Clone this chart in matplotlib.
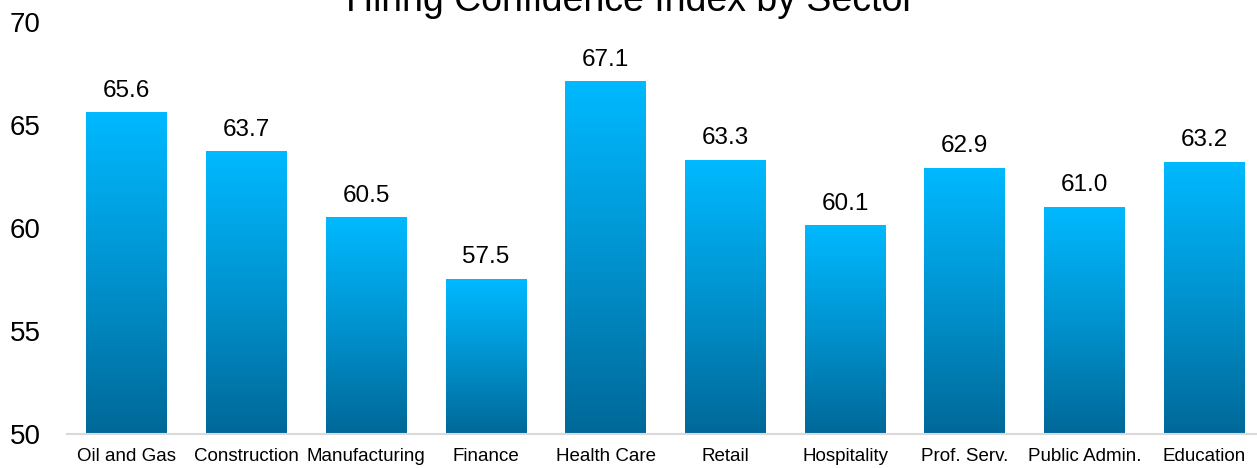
import numpy as np
import matplotlib
matplotlib.use("Agg")
import matplotlib.pyplot as plt
from matplotlib.colors import LinearSegmentedColormap

plt.rcParams['font.family'] = ['Liberation Sans', 'DejaVu Sans']

# sector data
sectors = ['Oil and Gas', 'Construction', 'Manufacturing', 'Finance', 'Health Care',
           'Retail', 'Hospitality', 'Prof. Serv.', 'Public Admin.', 'Education']
index_values = [65.6, 63.7, 60.5, 57.5, 67.1, 63.3, 60.1, 62.9, 61.0, 63.2]
y_ticks = [50, 55, 60, 65, 70]

base = 50
grad = LinearSegmentedColormap.from_list('bars', ['#006898', '#0093CF', '#00B9FF'])

fig = plt.figure(figsize=(12.57, 4.68), dpi=100)
ax = fig.add_axes([67 / 1257, 34 / 468, 1197 / 1257, 412 / 468])

x = np.arange(len(sectors))
vals = np.array(index_values)
bars = ax.bar(x, vals - base, bottom=base, width=0.675, color='none', edgecolor='none')

# fill each bar with its own vertical gradient
ramp = np.linspace(0, 1, 512).reshape(-1, 1)
for b in bars:
    x0, w, y0, h = b.get_x(), b.get_width(), b.get_y(), b.get_height()
    ax.imshow(ramp, cmap=grad, origin='lower', aspect='auto',
              extent=[x0, x0 + w, y0, y0 + h], zorder=2, interpolation='bilinear')

ax.bar_label(bars, labels=[f'{v:.1f}' for v in index_values], padding=8,
             fontsize=17.5, color='#000000')

ax.set_xlim(-0.5, len(sectors) - 0.5)
ax.set_ylim(50, 70)
ax.set_yticks(y_ticks)
ax.set_xticks(x)
ax.set_xticklabels(sectors, fontsize=13.5)
ax.tick_params(axis='y', length=0, pad=19, labelsize=20)
ax.tick_params(axis='x', length=0, pad=10)

for side in ['left', 'right', 'top']:
    ax.spines[side].set_visible(False)
ax.spines['bottom'].set_color('#D9D9D9')
ax.spines['bottom'].set_linewidth(1.5)
ax.spines['bottom'].set_zorder(3)

fig.text(630 / 1257, 457 / 468, 'Hiring Confidence Index by Sector',
         ha='center', va='baseline', fontsize=27)

fig.savefig('out.png', dpi=100)
